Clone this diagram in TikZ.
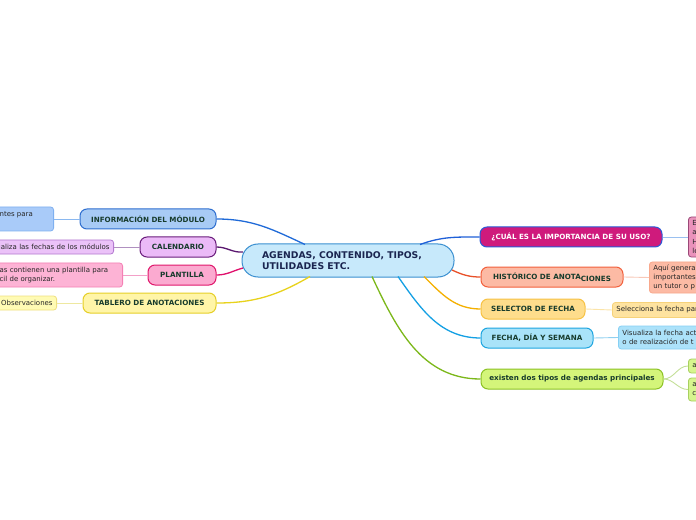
\documentclass[tikz,border=0pt]{standalone}
\usepackage{fontspec}
\setmainfont{DejaVu Sans}
\definecolor{txt}{HTML}{173B2C}
\definecolor{ctrtxt}{HTML}{1A2550}
\definecolor{ctrfill}{HTML}{C7E9FB}\definecolor{ctrdraw}{HTML}{3A8FD0}
\definecolor{infofill}{HTML}{A8CBF5}\definecolor{infodraw}{HTML}{2F6FD0}\definecolor{infoconn}{HTML}{1F6AD8}
\definecolor{infocfill}{HTML}{A9CBF9}\definecolor{infocdraw}{HTML}{7FB0F0}\definecolor{infocconn}{HTML}{8AB8F0}
\definecolor{calfill}{HTML}{EBBAF7}\definecolor{caldraw}{HTML}{6A1D7C}\definecolor{calconn}{HTML}{5B1870}
\definecolor{calcfill}{HTML}{EBC2F8}\definecolor{calcdraw}{HTML}{B47AD0}\definecolor{calcconn}{HTML}{B090C0}
\definecolor{plfill}{HTML}{FBAAD0}\definecolor{pldraw}{HTML}{E0186C}\definecolor{plconn}{HTML}{E0106C}
\definecolor{plcfill}{HTML}{FDB3D5}\definecolor{plcdraw}{HTML}{F580B5}\definecolor{plcconn}{HTML}{F3A0C8}
\definecolor{tbfill}{HTML}{FFF5A8}\definecolor{tbdraw}{HTML}{E6CF28}\definecolor{tbconn}{HTML}{E8D21C}
\definecolor{tbcfill}{HTML}{FFFBB4}\definecolor{tbcdraw}{HTML}{EFE080}\definecolor{tbcconn}{HTML}{EEE8A0}
\definecolor{cufill}{HTML}{CF1A7C}\definecolor{cudraw}{HTML}{2A5AD8}\definecolor{cuconn}{HTML}{1F60D8}
\definecolor{cucfill}{HTML}{EA92BB}\definecolor{cucdraw}{HTML}{9A4878}\definecolor{cucconn}{HTML}{9AC0F0}
\definecolor{hifill}{HTML}{FCBAA4}\definecolor{hidraw}{HTML}{F2603C}\definecolor{hiconn}{HTML}{E85028}
\definecolor{hicfill}{HTML}{FCBAA4}\definecolor{hicdraw}{HTML}{F8A88C}\definecolor{hicconn}{HTML}{F8C8B8}
\definecolor{sefill}{HTML}{FEDD8C}\definecolor{sedraw}{HTML}{F7C244}\definecolor{seconn}{HTML}{F4B000}
\definecolor{secfill}{HTML}{FEE3A0}\definecolor{secdraw}{HTML}{F6D27A}\definecolor{secconn}{HTML}{FBE4A8}
\definecolor{fefill}{HTML}{A9E3F9}\definecolor{fedraw}{HTML}{1EA5E0}\definecolor{feconn}{HTML}{14A0E4}
\definecolor{fecfill}{HTML}{ACE2FA}\definecolor{fecdraw}{HTML}{86D0F4}\definecolor{fecconn}{HTML}{90D0F0}
\definecolor{exfill}{HTML}{D4F57A}\definecolor{exdraw}{HTML}{8CC224}\definecolor{exconn}{HTML}{7CB81A}
\definecolor{excfill}{HTML}{D6F58E}\definecolor{excdraw}{HTML}{A8D060}\definecolor{excconn}{HTML}{C4E098}
\tikzset{
  mainbox/.style={rounded corners=7bp, line width=1bp, minimum height=20bp, inner sep=0pt,
    font=\bfseries\fontsize{7.2}{8.5}\selectfont, text=txt},
  childbox/.style={rounded corners=3bp, line width=0.8bp, inner xsep=4bp, inner ysep=1bp,
    font=\fontsize{7}{9}\selectfont, text=black!85, align=left},
  mainconn/.style={line width=1.3bp},
  childconn/.style={line width=0.9bp},
}
\begin{document}
\begin{tikzpicture}[x=1bp,y=1bp]
\useasboundingbox (0,0) rectangle (696,-520);
\clip (0,0) rectangle (696,-520);
\fill[white] (0,0) rectangle (696,-520);

% center
\node[rounded corners=16bp, draw=ctrdraw, fill=ctrfill, line width=1bp, minimum width=212bp, minimum height=33bp,
  text width=172bp, align=left, inner xsep=20bp, inner ysep=0pt,
  font=\bfseries\fontsize{9.3}{11}\selectfont, text=ctrtxt] (ctr) at (348,-260.5)
  {AGENDAS, CONTENIDO, TIPOS,\\UTILIDADES ETC.};

\coordinate (cI) at (305,-244.5);
\coordinate (cC) at (243,-252);
\coordinate (cP) at (243,-268);
\coordinate (cT) at (310,-276.5);
\coordinate (cQ) at (420,-244.5);
\coordinate (cH) at (452,-270);
\coordinate (cS) at (424,-276.5);
\coordinate (cF) at (398,-276.5);
\coordinate (cE) at (372,-276.5);

% left main nodes
\node[mainbox, draw=infodraw, fill=infofill, minimum width=136bp] (info) at (148,-219) {INFORMACIÓN DEL MÓDULO};
\node[mainbox, draw=caldraw, fill=calfill, minimum width=76bp] (cal) at (178,-247) {CALENDARIO};
\node[mainbox, draw=pldraw, fill=plfill, minimum width=68bp] (pl) at (182,-275) {PLANTILLA};
\node[mainbox, draw=tbdraw, fill=tbfill, minimum width=133bp] (tb) at (149.5,-303) {TABLERO DE ANOTACIONES};

% right main nodes
\node[mainbox, draw=cudraw, fill=cufill, text=white, minimum width=182bp] (cu) at (571,-237) {¿CUÁL ES LA IMPORTANCIA DE SU USO?};
\node[mainbox, draw=hidraw, fill=hifill, minimum width=142bp] (hi) at (552,-277) {HISTÓRICO DE ANOTA\raisebox{-1.6bp}{CIONES}};
\node[mainbox, draw=sedraw, fill=sefill, minimum width=104bp] (se) at (533,-309) {SELECTOR DE FECHA};
\node[mainbox, draw=fedraw, fill=fefill, minimum width=112bp] (fe) at (537,-338) {FECHA, DÍA Y SEMANA};
\node[mainbox, draw=exdraw, fill=exfill, minimum width=182bp] (ex) at (572,-379) {existen dos tipos de agendas principales};

% left children
\node[childbox, draw=infocdraw, fill=infocfill, anchor=east, minimum height=24bp, text width=50bp] (infoc) at (54,-219) {ntes para\\\phantom{x}};
\node[childbox, draw=calcdraw, fill=calcfill, anchor=east, minimum height=14bp, text width=130bp, align=right] (calc) at (114,-247) {ualiza las fechas de los módulos};
\node[childbox, draw=plcdraw, fill=plcfill, anchor=east, minimum height=24bp, text width=119bp] (plc) at (123,-275) {as contienen una plantilla para\\cil de organizar.};
\node[childbox, draw=tbcdraw, fill=tbcfill, anchor=east, minimum height=14bp, text width=53bp, align=right] (tbc) at (57,-303) {Observaciones};

% right children
\node[childbox, draw=cucdraw, fill=cucfill, anchor=west, minimum height=40bp, text width=60bp, font=\fontsize{7}{9.2}\selectfont] (cuc) at (688,-237) {E\\a\\H\\le};
\node[childbox, draw=hicdraw, fill=hicfill, anchor=west, minimum height=31bp, text width=60bp] (hic) at (649,-277.5) {Aquí genera\\importantes\\un tutor o p};
\node[childbox, draw=secdraw, fill=secfill, anchor=west, minimum height=15bp, text width=100bp] (sec) at (612,-310) {Selecciona la fecha par};
\node[childbox, draw=fecdraw, fill=fecfill, anchor=west, minimum height=23bp, text width=100bp] (fec) at (618,-337.5) {Visualiza la fecha act\\o de realización de t};
\node[childbox, draw=excdraw, fill=excfill, anchor=west, minimum height=14bp, text width=30bp] (ex1) at (688,-366) {a};
\node[childbox, draw=excdraw, fill=excfill, anchor=west, minimum height=23bp, text width=30bp] (ex2) at (688,-389.5) {a\\c};

% main connectors
\draw[mainconn, infoconn] (cI) to[out=155,in=0] (info.east);
\draw[mainconn, calconn] (cC) to[out=185,in=0] (cal.east);
\draw[mainconn, plconn] (cP) to[out=195,in=0] (pl.east);
\draw[mainconn, tbconn] (cT) to[out=-150,in=0] (tb.east);
\draw[mainconn, cuconn] (cQ) to[out=20,in=180] (cu.west);
\draw[mainconn, hiconn] (cH) to[out=-25,in=180] (hi.west);
\draw[mainconn, seconn] (cS) to[out=-45,in=180] (se.west);
\draw[mainconn, feconn] (cF) to[out=-55,in=180] (fe.west);
\draw[mainconn, exconn] (cE) to[out=-65,in=180] (ex.west);

% child connectors
\draw[childconn, infocconn] (info.west) -- (infoc.east);
\draw[childconn, calcconn] (cal.west) -- (calc.east);
\draw[childconn, plcconn] (pl.west) -- (plc.east);
\draw[childconn, tbcconn] (tb.west) -- (tbc.east);
\draw[childconn, cucconn] (cu.east) -- (cuc.west);
\draw[childconn, hicconn] (hi.east) -- (hic.west);
\draw[childconn, secconn] (se.east) -- (sec.west);
\draw[childconn, fecconn] (fe.east) -- (fec.west);
\draw[childconn, excconn] (ex.east) to[out=0,in=180] (ex1.west);
\draw[childconn, excconn] (ex.east) to[out=0,in=180] (ex2.west);
\end{tikzpicture}
\end{document}
